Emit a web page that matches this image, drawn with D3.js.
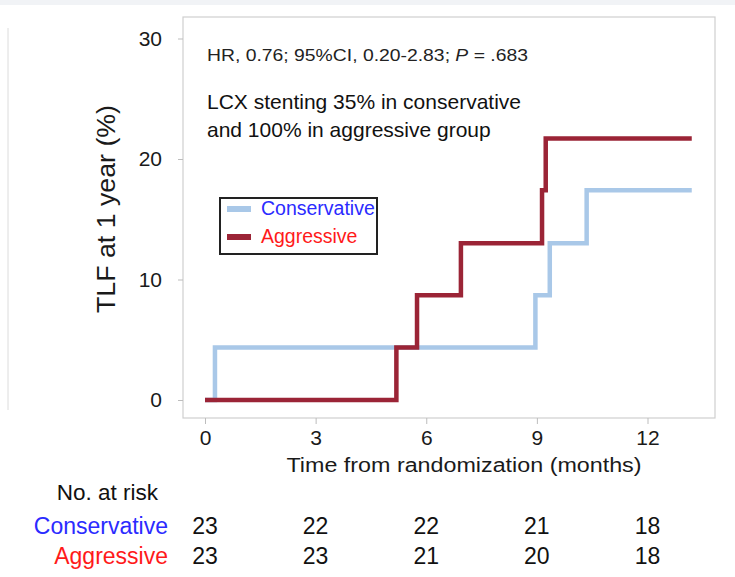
<!DOCTYPE html>
<html>
<head>
<meta charset="utf-8">
<script src="https://cdn.jsdelivr.net/npm/d3@7"></script>
<style>
  html, body { margin: 0; padding: 0; background: #fff; }
  svg { display: block; font-family: "Liberation Sans", Arial, sans-serif; }
</style>
</head>
<body>
<svg id="chart" width="735" height="577"></svg>
<script>
// Cumulative incidence of target lesion failure (step functions)
const conservativeTimes = [0, 0.27, 8.96, 9.35, 10.35, 13.2];
const conservativeValues = [0, 4.35, 8.7, 13.0, 17.4, 17.4];
const aggressiveTimes = [0, 5.19, 5.75, 6.94, 9.14, 9.24, 13.2];
const aggressiveValues = [0, 4.35, 8.7, 13.0, 17.4, 21.7, 21.7];

const xTicks = [0, 3, 6, 9, 12];
const yTicks = [0, 10, 20, 30];
const seriesNames = ["Conservative", "Aggressive"];
const atRiskConservative = [23, 22, 22, 21, 18];
const atRiskAggressive = [23, 23, 21, 20, 18];

const svg = d3.select("#chart");

// faint page edges
svg.append("rect").attr("x", 0).attr("y", 0).attr("width", 735).attr("height", 5).attr("fill", "#f1f3f6");
svg.append("line").attr("x1", 8).attr("x2", 8).attr("y1", 28).attr("y2", 410)
  .attr("stroke", "#dcdcdc").attr("stroke-width", 1);

const frame = { left: 183, right: 715, top: 17, bottom: 418 };
const x = d3.scaleLinear().domain([0, 12]).range([205, 647.5]);
const y = d3.scaleLinear().domain([0, 30]).range([400, 38.5]);

// plot frame
svg.append("rect")
  .attr("x", frame.left).attr("y", frame.top)
  .attr("width", frame.right - frame.left).attr("height", frame.bottom - frame.top)
  .attr("fill", "none").attr("stroke", "#cfcfcf").attr("stroke-width", 1.2);

// y axis
const yAxis = svg.append("g").attr("transform", `translate(${frame.left},0)`)
  .call(d3.axisLeft(y).tickValues(yTicks).tickSize(5).tickPadding(16));
yAxis.select(".domain").remove();
yAxis.selectAll(".tick line").attr("stroke", "#bdbdbd");
yAxis.selectAll(".tick text").attr("font-size", 21).attr("fill", "#1a1a1a")
  .attr("font-family", "Liberation Sans, Arial, sans-serif");

// x axis
const xAxis = svg.append("g").attr("transform", `translate(0,${frame.bottom})`)
  .call(d3.axisBottom(x).tickValues(xTicks).tickSize(6).tickPadding(6));
xAxis.select(".domain").remove();
xAxis.selectAll(".tick line").attr("stroke", "#bdbdbd");
xAxis.selectAll(".tick text").attr("font-size", 21).attr("fill", "#1a1a1a")
  .attr("font-family", "Liberation Sans, Arial, sans-serif");

// axis titles
svg.append("text")
  .attr("transform", `translate(115,209) rotate(-90)`)
  .attr("text-anchor", "middle").attr("font-size", 26).attr("fill", "#1a1a1a")
  .attr("textLength", 208).attr("lengthAdjust", "spacingAndGlyphs")
  .text("TLF at 1 year (%)");
svg.append("text")
  .attr("x", 464).attr("y", 472).attr("text-anchor", "middle")
  .attr("font-size", 20).attr("fill", "#1a1a1a")
  .attr("textLength", 355).attr("lengthAdjust", "spacingAndGlyphs")
  .text("Time from randomization (months)");

// step curves
const line = d3.line().x(d => x(d[0])).y(d => y(d[1])).curve(d3.curveStepAfter);
const curves = [
  { name: seriesNames[0], t: conservativeTimes, v: conservativeValues, color: "#a9c8e8" },
  { name: seriesNames[1], t: aggressiveTimes, v: aggressiveValues, color: "#9b2436" }
];
curves.forEach(c => {
  svg.append("path")
    .datum(c.t.map((t, i) => [t, c.v[i]]))
    .attr("d", line)
    .attr("fill", "none").attr("stroke", c.color)
    .attr("stroke-width", 4.5).attr("stroke-linejoin", "miter").attr("stroke-linecap", "butt");
});

// annotations
const ann = svg.append("text").attr("x", 207).attr("y", 61).attr("font-size", 16.5).attr("fill", "#222")
  .attr("textLength", 321).attr("lengthAdjust", "spacingAndGlyphs");
ann.append("tspan").text("HR, 0.76; 95%CI, 0.20-2.83; ");
ann.append("tspan").attr("font-style", "italic").text("P");
ann.append("tspan").text(" = .683");
svg.append("text").attr("x", 207).attr("y", 109).attr("font-size", 21).attr("fill", "#111")
  .text("LCX stenting 35% in conservative");
svg.append("text").attr("x", 207).attr("y", 137).attr("font-size", 21).attr("fill", "#111")
  .text("and 100% in aggressive group");

// legend
const legend = svg.append("g");
legend.append("rect").attr("x", 220).attr("y", 198).attr("width", 157).attr("height", 56)
  .attr("fill", "#fff").attr("stroke", "#222").attr("stroke-width", 2);
const legendColors = ["#a9c8e8", "#9b2436"];
const legendText = ["#2b2bff", "#ff1a1a"];
seriesNames.forEach((n, i) => {
  const yy = 209 + i * 28;
  legend.append("line").attr("x1", 227).attr("x2", 251).attr("y1", yy).attr("y2", yy)
    .attr("stroke", legendColors[i]).attr("stroke-width", 6);
  legend.append("text").attr("x", 261).attr("y", yy + 6).attr("font-size", 19.5)
    .attr("fill", legendText[i]).text(n);
});

// number at risk table
svg.append("text").attr("x", 158).attr("y", 500).attr("text-anchor", "end")
  .attr("font-size", 22.5).attr("fill", "#111").text("No. at risk");
[atRiskConservative, atRiskAggressive].forEach((row, i) => {
  const yy = 534 + i * 30;
  svg.append("text").attr("x", 168).attr("y", yy).attr("text-anchor", "end")
    .attr("font-size", 23).attr("fill", legendText[i]).text(seriesNames[i]);
  svg.append("g").selectAll("text").data(row).join("text")
    .attr("x", (d, j) => x(xTicks[j])).attr("y", yy).attr("text-anchor", "middle")
    .attr("font-size", 23).attr("fill", "#111").text(d => d);
});
</script>
</body>
</html>
